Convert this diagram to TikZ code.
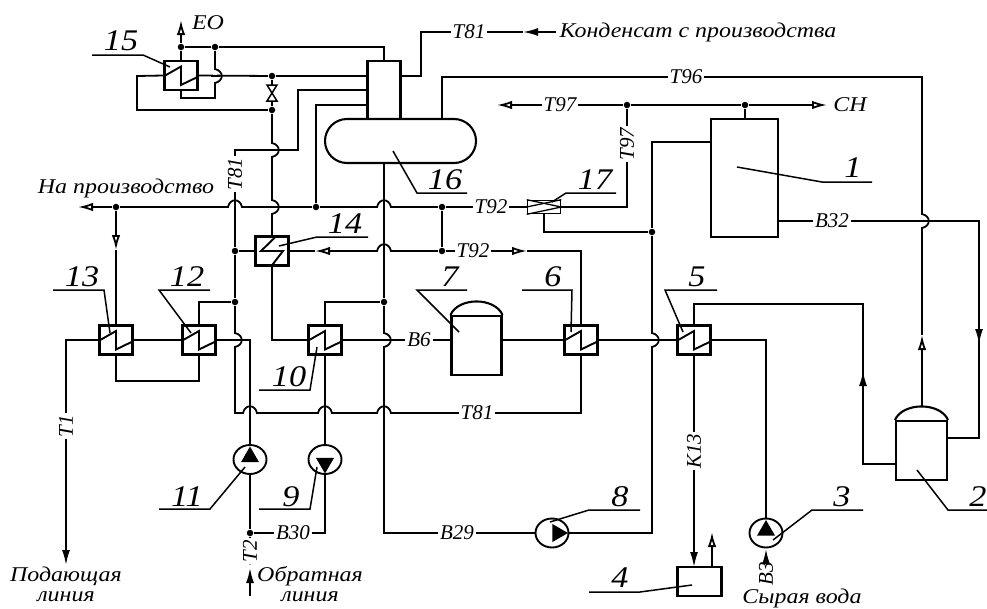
\documentclass[tikz,border=0pt]{standalone}
\usepackage{fontspec}
\setmainfont[FakeStretch=1.14]{Liberation Serif}
\newfontfamily\tagfont{Liberation Serif}
\usetikzlibrary{calc,positioning,arrows.meta,shapes,shapes.geometric}

\newcommand{\hophor}[2]{%
    \draw[white, line width=3.8pt] (#1-6,#2) -- (#1+6,#2);
    \draw (#1,#2-4) -- (#1,#2+4);
    \draw (#1-7,#2) .. controls (#1-5,#2-9) and (#1+5,#2-9) .. (#1+7,#2);}
\newcommand{\hopver}[2]{%
    \draw[white, line width=3.8pt] (#1,#2-6) -- (#1,#2+6);
    \draw (#1-4,#2) -- (#1+5,#2);
    \draw (#1,#2-7) .. controls (#1+9,#2-5) and (#1+9,#2+5) .. (#1,#2+7);}

\tikzset{
    pipe/.style={line width=1.8pt},
    hx/.style={draw, line width=2.1pt, minimum width=33pt, minimum height=29pt, inner sep=0pt},
    tank/.style={draw, line width=2.1pt, inner sep=0pt},
    pumpbody/.style={draw, ellipse, line width=1.9pt, minimum width=33pt, minimum height=29pt, inner sep=0pt},
    dot/.style={circle, fill, inner sep=0pt, minimum size=6.5pt},
    tag/.style={font=\tagfont\itshape\fontsize{21}{21}\selectfont, inner sep=1pt},
    tagv/.style={tag, rotate=90},
    txt/.style={font=\itshape\fontsize{21}{20}\selectfont, inner sep=0pt, align=center},
    num/.style={font=\itshape\fontsize{30}{30}\selectfont, inner sep=0pt},
    leader/.style={line width=1.5pt},
    hollow/.style={-{Latex[open,length=15pt,width=8.5pt]}},
    filled/.style={-{Latex[length=15pt,width=8pt]}},
}

\begin{document}
\begin{tikzpicture}[x=1pt, y=-1pt, pipe]
    \useasboundingbox (0,0) rectangle (987,608);

    % apparatus
    \node[hx] (hx15) at (181,75.5) {};
    \node[hx] (hx14) at (272,251) {};
    \node[hx] (hx13) at (116,340) {};
    \node[hx] (hx12) at (199,340) {};
    \node[hx] (hx10) at (325,340) {};
    \node[hx] (hx6) at (581,340) {};
    \node[hx] (hx5) at (694,340) {};
    \node[draw, line width=1.6pt, minimum width=33pt, minimum height=13pt, inner sep=0pt] (hx17) at (544,207) {};
    \node[tank, minimum width=33pt, minimum height=58pt] (col) at (384,90) {};
    \node[tank, rounded rectangle, minimum width=151pt, minimum height=44pt] (v16) at (400.5,141) {};
    \node[tank, minimum width=67pt, minimum height=118pt] (v1) at (744.5,178) {};
    \node[tank, minimum width=50pt, minimum height=59pt] (v7) at (476.5,345.5) {};
    \node[tank, minimum width=51pt, minimum height=59pt] (v2) at (921.5,450.5) {};
    \node[tank, minimum width=44pt, minimum height=29pt] (v4) at (699.5,581.5) {};
    \node[pumpbody] (p11) at (250,459.5) {};
    \node[pumpbody] (p9) at (325,459.5) {};
    \node[pumpbody] (p8) at (552,533) {};
    \node[pumpbody] (p3) at (766,533) {};

    % junctions
    \node[dot] (j1) at (181,47) {};
    \node[dot] (j2) at (215,47) {};
    \node[dot] (j3) at (272,76) {};
    \node[dot] (j4) at (272,110) {};
    \node[dot] (j5) at (116,207) {};
    \node[dot] (j6) at (316,207) {};
    \node[dot] (j7) at (442,207) {};
    \node[dot] (j8) at (442,251) {};
    \node[dot] (j9) at (235,251) {};
    \node[dot] (j10) at (235,302) {};
    \node[dot] (j11) at (384,302) {};
    \node[dot] (j12) at (250,533) {};
    \node[dot] (j13) at (627,105) {};
    \node[dot] (j14) at (745,105) {};
    \node[dot] (j15) at (652,232) {};

    % line labels
    \node[tag] (t81a) at (469,32) {Т81};
    \node[tagv] (t81b) at (235,174) {Т81};
    \node[tag] (t81c) at (477,413) {Т81};
    \node[tag] (t96) at (686,77) {Т96};
    \node[tag] (t97a) at (560,105) {Т97};
    \node[tagv] (t97b) at (627,144) {Т97};
    \node[tag] (t92a) at (491,207) {Т92};
    \node[tag] (t92b) at (473,251) {Т92};
    \node[tag] (b32) at (832,221) {В32};
    \node[tag] (b6) at (419,340) {В6};
    \node[tag] (b30) at (293,533) {В30};
    \node[tag] (b29) at (457,533) {В29};
    \node[tagv] (t1) at (66,426) {Т1};
    \node[tagv] (t2) at (250,551) {Т2};
    \node[tagv] (k13) at (694,451) {К13};
    \node[tagv] (b3) at (766,574) {В3};

    % free ends
    \coordinate (eo) at (181,20);
    \coordinate (prod) at (78,207);
    \coordinate (ch) at (827,105);
    \coordinate (tw) at (497,105);
    \coordinate (kond) at (556,32);
    \coordinate (supply) at (66,565);
    \coordinate (ret) at (250,596);
    \coordinate (retend) at (250,568);
    \coordinate (rawend) at (766,549);

    % top part
    \draw[hollow] (j1) -- (eo);
    \draw (hx15) -- (j1) -- (j2) -| (col);
    \draw (j2) -- (215,98) -| (hx15);
    \draw (hx15.west) -- (137,76) |- (j4);
    \draw (hx15.east) -- (j3) -- (col.west |- j3);
    \draw (j3) -- (j4);
    \draw (j4) -- (hx14);
    \draw (t81b) |- (298,150) |- (col.west |- 0,90);
    \draw (j6) |- (col.west |- 0,105);
    \draw (col.east |- 0,76) -- (421,76) |- (t81a);
    \draw[filled] (kond) -- (523,32);
    \draw (523,32) -- (t81a);
    \draw (442,119) |- (t96) -- (922,77) -- (922,335);
    \draw[hollow] (922,407) -- (922,335);

    % main steam line
    \draw[hollow] (j5) -- (prod);
    \draw (j5) -- (j6) -- (j7) -- (t92a) -- (hx17);
    \draw (j7) -- (j8);
    \draw[hollow] (j5) -- (116,250);
    \draw (116,250) -- (hx13);
    \draw[hollow] (j8) -- (315,251);
    \draw (315,251) -- (hx14);
    \draw (j8) -- (t92b);
    \draw[hollow] (t92b) -- (527,251);
    \draw (527,251) -| (hx6);
    \draw (j9) -- (hx14);

    % T81 riser and return
    \draw (t81b) -- (j9) -- (j10) -- (235,413) -- (t81c);
    \draw (t81c) -| (hx6);
    \draw (j10) -| (hx12);

    % heaters row
    \draw (hx13.west) -| (t1);
    \draw[filled] (t1) -- (supply);
    \draw (hx13) -- (hx12);
    \draw (hx13.south) |- (199,381) -- (hx12.south);
    \draw (hx12.east) -- (250,340) -- (p11);
    \draw (hx14) |- (hx10.west);
    \draw (hx10) -- (p9);
    \draw (hx10) |- (j11);
    \draw (hx10.east) -- (b6) -- (v7.west |- b6);
    \draw (v7.east |- b6) -- (hx6.west);
    \draw (hx6.east) -- (hx5.west);

    % right side
    \draw (j11 |- v16.south) -- (j11) -- (384,533) -- (b29) -- (p8);
    \draw (p8) -| (j15) -- (652,142) -- (v1.west |- 0,142);
    \draw (j15) -| (hx17);
    \draw (hx17.east) -| (t97b) -- (j13);
    \draw[hollow] (j13) -- (j14) -- (ch);
    \draw[hollow] (t97a) -- (tw);
    \draw (t97a) -- (j13);
    \draw (j14) -- (v1);
    \draw[filled] (v1.east |- b32) -- (b32) -- (979,221) -- (979,344);
    \draw (979,340) |- (v2.east |- 0,438);
    \draw (hx5) |- (863,304) -- (863,385);
    \draw[filled] (863,395) -- (863,371);
    \draw (863,380) |- (v2.west |- 0,464);
    \draw (hx5.east) -| (p3);
    \draw (hx5) -- (k13);
    \draw[filled] (k13) -- (694,567);
    \draw[hollow] (712,567) -- (712,532);
    \draw[filled] (b3) -- (rawend);
    \draw (j12) -- (p11);
    \draw (j12) -- (b30) -| (p9);
    \draw (j12) -- (t2);
    \draw (t2) -- (250,564);
    \draw[filled] (ret) -- (retend);

    % domes
    \draw[tank] (v7.north west) .. controls +(8,-18) and +(-8,-18) .. (v7.north east);
    \draw[tank] (v2.north west) .. controls +(8,-18) and +(-8,-18) .. (v2.north east);

    % line hops
    \foreach \x/\y in {235/207, 384/207, 384/251, 250/413, 325/413, 384/413} {
        \hophor{\x}{\y}
    }
    \foreach \x/\y in {215/76, 272/150, 272/207, 235/340, 384/340, 652/340, 922/221} {
        \hopver{\x}{\y}
    }

    % exchanger coils
    \foreach \n in {hx5, hx6, hx10, hx12, hx13, hx15} {
        \draw[line width=1.9pt] ([yshift=-1pt]\n.west) -- ([yshift=9pt]\n.center) -- ([yshift=-9.5pt]\n.center) -- ([yshift=-1pt]\n.east);
    }
    \draw[line width=1.9pt] ([xshift=5pt]hx14.north) -- ([xshift=-11pt]hx14.center) -- ([xshift=11pt]hx14.center) -- ([xshift=-1pt]hx14.south);
    \draw[line width=1.3pt] (hx17.north west) -- (hx17.east) -- (hx17.south west);
    \draw[line width=1.3pt] (hx17.west) -- (hx17.north east);

    % valve
    \coordinate (valve) at (272,93);
    \draw[line width=1.5pt, fill=white] (valve) ++(-5,-8) -- ++(10,0) -- ++(-10,16) -- ++(10,0) -- cycle;

    % pump wedges
    \foreach \n/\a/\sx/\sy in {p11/90/0/13, p9/-90/0/-14, p8/0/16/0, p3/90/0/13} {
        \fill ([xshift=\sx pt, yshift=\sy pt]\n.center) -- ++(\a+150:18pt) -- ++(\a-90:18pt) -- cycle;
    }

    % texts
    \node[txt] (eotxt) at (208,23) {ЕО};
    \node[txt] (kondtxt) at (698,32) {Конденсат с производства};
    \node[txt] (chtxt) at (850,105) {СН};
    \node[txt] (prodtxt) at (126,188) {На производство};
    \node[txt] (suptxt) at (66,584) {Подающая\\линия};
    \node[txt] (rettxt) at (310,584) {Обратная\\линия};
    \node[txt] (rawtxt) at (802,598) {Сырая вода};

    % position numbers and leaders
    \foreach \n/\x/\y/\ax/\ay/\bx/\by/\cx/\cy in {
        1/853/168/737/167/822/182/872/182,
        2/978/497/917/470/948/510/987/510,
        3/842/497/773/540/812/510/863/510,
        4/620/578/692/585/640/592/589/592,
        5/697/277/683/332/665/290/717/290,
        6/553/277/571/332/572/290/522/290,
        7/450/277/459/332/417/290/467/290,
        8/620/497/550/522/589/510/640/510,
        9/291/497/317/467/310/509/259/509,
        10/289/377/317/347/310/390/259/390,
        11/187/497/245/467/210/509/159/509,
        12/187/277/191/333/159/290/210/290,
        13/82/277/110/333/104/290/53/290,
        14/345/224/279/246/317/237/368/237,
        15/121/41/170/67/143/55/92/55,
        16/445/180/393/151/417/193/467/193,
        17/595/180/552/202/566/193/616/193} {
        \node[num] (n\n) at (\x,\y) {\n};
        \draw[leader] (\ax,\ay) -- (\bx,\by) -- (\cx,\cy);
    }
\end{tikzpicture}
\end{document}
